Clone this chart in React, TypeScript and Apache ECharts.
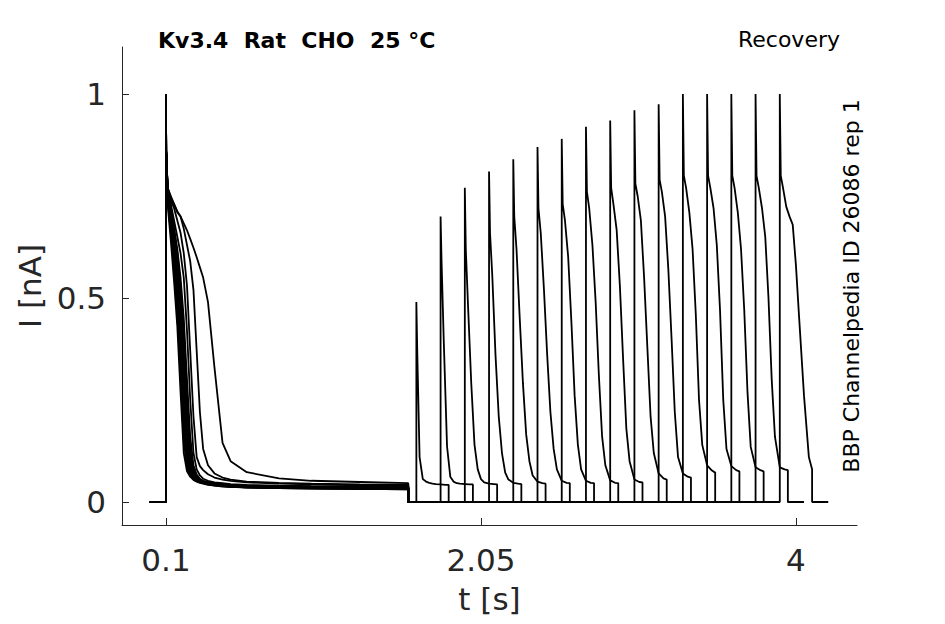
import React, { useEffect, useRef } from "react";
import * as echarts from "echarts";

// ---- prepulse (conditioning pulse) samples, shared time grid [s]
const preTimes = [0.1, 0.101, 0.11, 0.13, 0.15, 0.17, 0.19, 0.21, 0.23, 0.25, 0.27, 0.29, 0.31, 0.33, 0.36, 0.4, 0.45, 0.5, 0.6, 0.8, 1.0, 1.3, 1.6];

// current [nA] of each sweep during the prepulse, on preTimes
const preTraces = [
  [1.0, 0.86, 0.77, 0.745, 0.73, 0.713, 0.7, 0.683, 0.666, 0.645, 0.623, 0.6, 0.575, 0.55, 0.49, 0.33, 0.145, 0.1, 0.073, 0.058, 0.052, 0.049, 0.046],
  [1.0, 0.86, 0.77, 0.75, 0.73, 0.71, 0.7, 0.67, 0.63, 0.59, 0.52, 0.37, 0.22, 0.13, 0.09, 0.07, 0.06, 0.055, 0.05, 0.047, 0.045, 0.043, 0.042],
  [1.0, 0.86, 0.77, 0.74, 0.72, 0.69, 0.66, 0.61, 0.53, 0.37, 0.21, 0.11, 0.088, 0.078, 0.068, 0.06, 0.055, 0.052, 0.048, 0.045, 0.043, 0.041, 0.04],
  [0.99, 0.86, 0.77, 0.73, 0.69, 0.65, 0.61, 0.55, 0.42, 0.25, 0.12, 0.08, 0.065, 0.057, 0.052, 0.048, 0.046, 0.044, 0.042, 0.04, 0.039, 0.038, 0.038],
  [1.0, 0.86, 0.77, 0.72, 0.67, 0.62, 0.55, 0.45, 0.3, 0.16, 0.09, 0.067, 0.057, 0.052, 0.049, 0.046, 0.044, 0.042, 0.04, 0.039, 0.038, 0.037, 0.037],
  [1.0, 0.86, 0.77, 0.72, 0.67, 0.61, 0.53, 0.42, 0.26, 0.13, 0.08, 0.063, 0.055, 0.051, 0.048, 0.045, 0.043, 0.041, 0.04, 0.038, 0.037, 0.036, 0.036],
  [0.99, 0.86, 0.77, 0.71, 0.66, 0.6, 0.51, 0.38, 0.22, 0.11, 0.073, 0.06, 0.054, 0.05, 0.047, 0.044, 0.042, 0.04, 0.039, 0.037, 0.036, 0.036, 0.035],
  [1.0, 0.86, 0.76, 0.71, 0.65, 0.58, 0.48, 0.34, 0.18, 0.095, 0.068, 0.058, 0.052, 0.049, 0.046, 0.043, 0.041, 0.04, 0.038, 0.037, 0.036, 0.035, 0.035],
  [1.0, 0.86, 0.76, 0.7, 0.64, 0.56, 0.45, 0.3, 0.15, 0.085, 0.064, 0.056, 0.051, 0.048, 0.045, 0.043, 0.041, 0.039, 0.038, 0.036, 0.035, 0.035, 0.034],
  [0.99, 0.86, 0.76, 0.7, 0.63, 0.55, 0.43, 0.28, 0.14, 0.08, 0.062, 0.055, 0.05, 0.048, 0.045, 0.043, 0.041, 0.039, 0.037, 0.036, 0.035, 0.034, 0.034],
  [0.99, 0.86, 0.76, 0.69, 0.62, 0.54, 0.42, 0.26, 0.13, 0.078, 0.061, 0.054, 0.05, 0.048, 0.045, 0.042, 0.04, 0.039, 0.037, 0.036, 0.035, 0.034, 0.034],
  [1.0, 0.86, 0.75, 0.68, 0.61, 0.52, 0.39, 0.22, 0.11, 0.072, 0.059, 0.053, 0.05, 0.047, 0.044, 0.042, 0.04, 0.038, 0.037, 0.035, 0.034, 0.033, 0.033],
  [1.0, 0.86, 0.75, 0.675, 0.6, 0.505, 0.37, 0.2, 0.1, 0.07, 0.058, 0.052, 0.049, 0.047, 0.044, 0.042, 0.04, 0.038, 0.036, 0.035, 0.034, 0.033, 0.032],
  [0.99, 0.85, 0.75, 0.67, 0.59, 0.49, 0.35, 0.18, 0.095, 0.068, 0.057, 0.052, 0.049, 0.046, 0.044, 0.041, 0.039, 0.038, 0.036, 0.035, 0.034, 0.033, 0.032],
  [1.0, 0.86, 0.74, 0.66, 0.57, 0.46, 0.31, 0.15, 0.085, 0.065, 0.056, 0.051, 0.048, 0.046, 0.043, 0.041, 0.039, 0.037, 0.036, 0.034, 0.033, 0.032, 0.031],
  [1.0, 0.86, 0.73, 0.64, 0.54, 0.43, 0.27, 0.12, 0.075, 0.062, 0.054, 0.05, 0.047, 0.045, 0.042, 0.04, 0.038, 0.037, 0.035, 0.034, 0.033, 0.032, 0.031],
];

// ---- test pulses
const testStarts = [1.65, 1.8, 1.95, 2.1, 2.25, 2.4, 2.55, 2.7, 2.85, 3.0, 3.15, 3.3, 3.45, 3.6, 3.75, 3.9];
const testPeaks = [0.49, 0.7, 0.77, 0.81, 0.84, 0.87, 0.89, 0.92, 0.935, 0.96, 0.975, 1.0, 1.0, 1.0, 1.0, 1.0];
// time after each test pulse onset [s]
const testDt = [0.006, 0.02, 0.04, 0.06, 0.08, 0.1, 0.12, 0.15, 0.18, 0.2];
const testTraces = [
  [0.36, 0.11, 0.056, 0.05, 0.047, 0.045, 0.044, 0.043, 0.042, 0.042],
  [0.59, 0.39, 0.136, 0.062, 0.05, 0.046, 0.045, 0.044, 0.043, 0.043],
  [0.62, 0.48, 0.29, 0.14, 0.08, 0.056, 0.048, 0.045, 0.044, 0.043],
  [0.66, 0.555, 0.36, 0.21, 0.12, 0.072, 0.055, 0.047, 0.045, 0.044],
  [0.7, 0.62, 0.45, 0.29, 0.165, 0.1, 0.065, 0.05, 0.046, 0.045],
  [0.72, 0.66, 0.52, 0.36, 0.22, 0.13, 0.08, 0.052, 0.047, 0.046],
  [0.73, 0.69, 0.6, 0.44, 0.26, 0.14, 0.08, 0.052, 0.047, 0.046],
  [0.76, 0.72, 0.63, 0.49, 0.31, 0.16, 0.09, 0.053, 0.047, 0.046],
  [0.77, 0.73, 0.667, 0.53, 0.35, 0.18, 0.1, 0.055, 0.049, 0.048],
  [0.78, 0.75, 0.69, 0.55, 0.38, 0.21, 0.12, 0.07, 0.058, 0.055],
  [0.79, 0.76, 0.7, 0.57, 0.4, 0.22, 0.11, 0.07, 0.062, 0.06],
  [0.8, 0.77, 0.71, 0.62, 0.46, 0.25, 0.14, 0.09, 0.077, 0.072],
  [0.8, 0.77, 0.72, 0.63, 0.47, 0.25, 0.13, 0.088, 0.078, 0.075],
  [0.8, 0.77, 0.71, 0.62, 0.47, 0.27, 0.135, 0.085, 0.078, 0.075],
  [0.8, 0.77, 0.72, 0.65, 0.5, 0.3, 0.16, 0.085, 0.08, 0.078],
  [0.8, 0.77, 0.724, 0.7, 0.68, 0.58, 0.45, 0.26, 0.11, 0.08],
];

// protocol timing [s]
const sweepStart = 0;
const prepulseStart = 0.1;
const prepulseEnd = 1.6;
const testWidth = 0.2;
const sweepTail = 0.3;

// axes
const xTicks = [0.1, 2.05, 4];
const yTicks = [0, 0.5, 1];
const xRange = [-0.1724, 4.378];
const yRange = [-0.0564, 1.1152];

const FONT = '"DejaVu Sans", "Liberation Sans", sans-serif';
const AXIS_COLOR = "#262626";

export default function App() {
  const ref = useRef<HTMLDivElement>(null);

  useEffect(() => {
    if (!ref.current) return;
    const chart = echarts.init(ref.current, undefined, { renderer: "svg" });

    const series = testStarts.map((s, i) => {
      const pts: number[][] = [
        [sweepStart, 0],
        [prepulseStart, 0],
      ];
      preTimes.forEach((t, j) => pts.push([t, preTraces[i][j]]));
      pts.push([prepulseEnd, 0]);
      pts.push([s, 0]);
      pts.push([s, testPeaks[i]]);
      testDt.forEach((d, j) => pts.push([s + d, testTraces[i][j]]));
      pts.push([s + testWidth, 0]);
      pts.push([s + sweepTail, 0]);
      return {
        type: "line",
        data: pts,
        symbol: "none",
        showSymbol: false,
        silent: true,
        animation: false,
        lineStyle: { color: "#000000", width: 1.8 },
        z: 2,
      };
    });

    chart.setOption({
      animation: false,
      backgroundColor: "#ffffff",
      grid: {
        left: 122,
        right: 88,
        top: 47,
        bottom: 99,
        containLabel: false,
        outerBoundsMode: "none",
      },
      xAxis: {
        type: "value",
        min: xRange[0],
        max: xRange[1],
        name: "t [s]",
        nameLocation: "middle",
        nameGap: 58,
        nameTextStyle: { fontSize: 31, color: AXIS_COLOR, fontFamily: FONT },
        axisLine: { show: true, onZero: false, lineStyle: { color: AXIS_COLOR, width: 1 } },
        axisTick: { show: true, inside: true, length: 7, customValues: xTicks, lineStyle: { color: AXIS_COLOR, width: 1 } },
        axisLabel: { show: true, customValues: xTicks, margin: 19, fontSize: 31, color: AXIS_COLOR, fontFamily: FONT },
        splitLine: { show: false },
      },
      yAxis: {
        type: "value",
        min: yRange[0],
        max: yRange[1],
        name: "I [nA]",
        nameLocation: "middle",
        nameRotate: 90,
        nameGap: 77,
        nameTextStyle: { fontSize: 31, color: AXIS_COLOR, fontFamily: FONT },
        axisLine: { show: true, onZero: false, lineStyle: { color: AXIS_COLOR, width: 1 } },
        axisTick: { show: true, inside: true, length: 7, customValues: yTicks, lineStyle: { color: AXIS_COLOR, width: 1 } },
        axisLabel: { show: true, customValues: yTicks, margin: 16, fontSize: 31, color: AXIS_COLOR, fontFamily: FONT },
        splitLine: { show: false },
      },
      graphic: [
        {
          type: "text",
          x: 158,
          y: 40,
          style: {
            text: "Kv3.4  Rat  CHO  25 °C",
            fill: "#000000",
            font: `bold 22px ${FONT}`,
            textAlign: "left",
            align: "left",
            textVerticalAlign: "middle",
            verticalAlign: "middle",
          },
        },
        {
          type: "text",
          x: 840,
          y: 39,
          style: {
            text: "Recovery",
            fill: "#000000",
            font: `22px ${FONT}`,
            textAlign: "right",
            align: "right",
            textVerticalAlign: "middle",
            verticalAlign: "middle",
          },
        },
        {
          type: "text",
          x: 851,
          y: 286,
          rotation: Math.PI / 2,
          style: {
            text: "BBP Channelpedia ID 26086 rep 1",
            fill: "#000000",
            font: `22px ${FONT}`,
            textAlign: "center",
            align: "center",
            textVerticalAlign: "middle",
            verticalAlign: "middle",
          },
        },
      ],
      series,
    });

    return () => {
      chart.dispose();
    };
  }, []);

  return (
    <>
      <style>{"svg text { white-space: pre; }"}</style>
      <div
        ref={ref}
        style={{ position: "fixed", left: 0, top: 0, width: 945, height: 624, background: "#ffffff" }}
      />
    </>
  );
}
